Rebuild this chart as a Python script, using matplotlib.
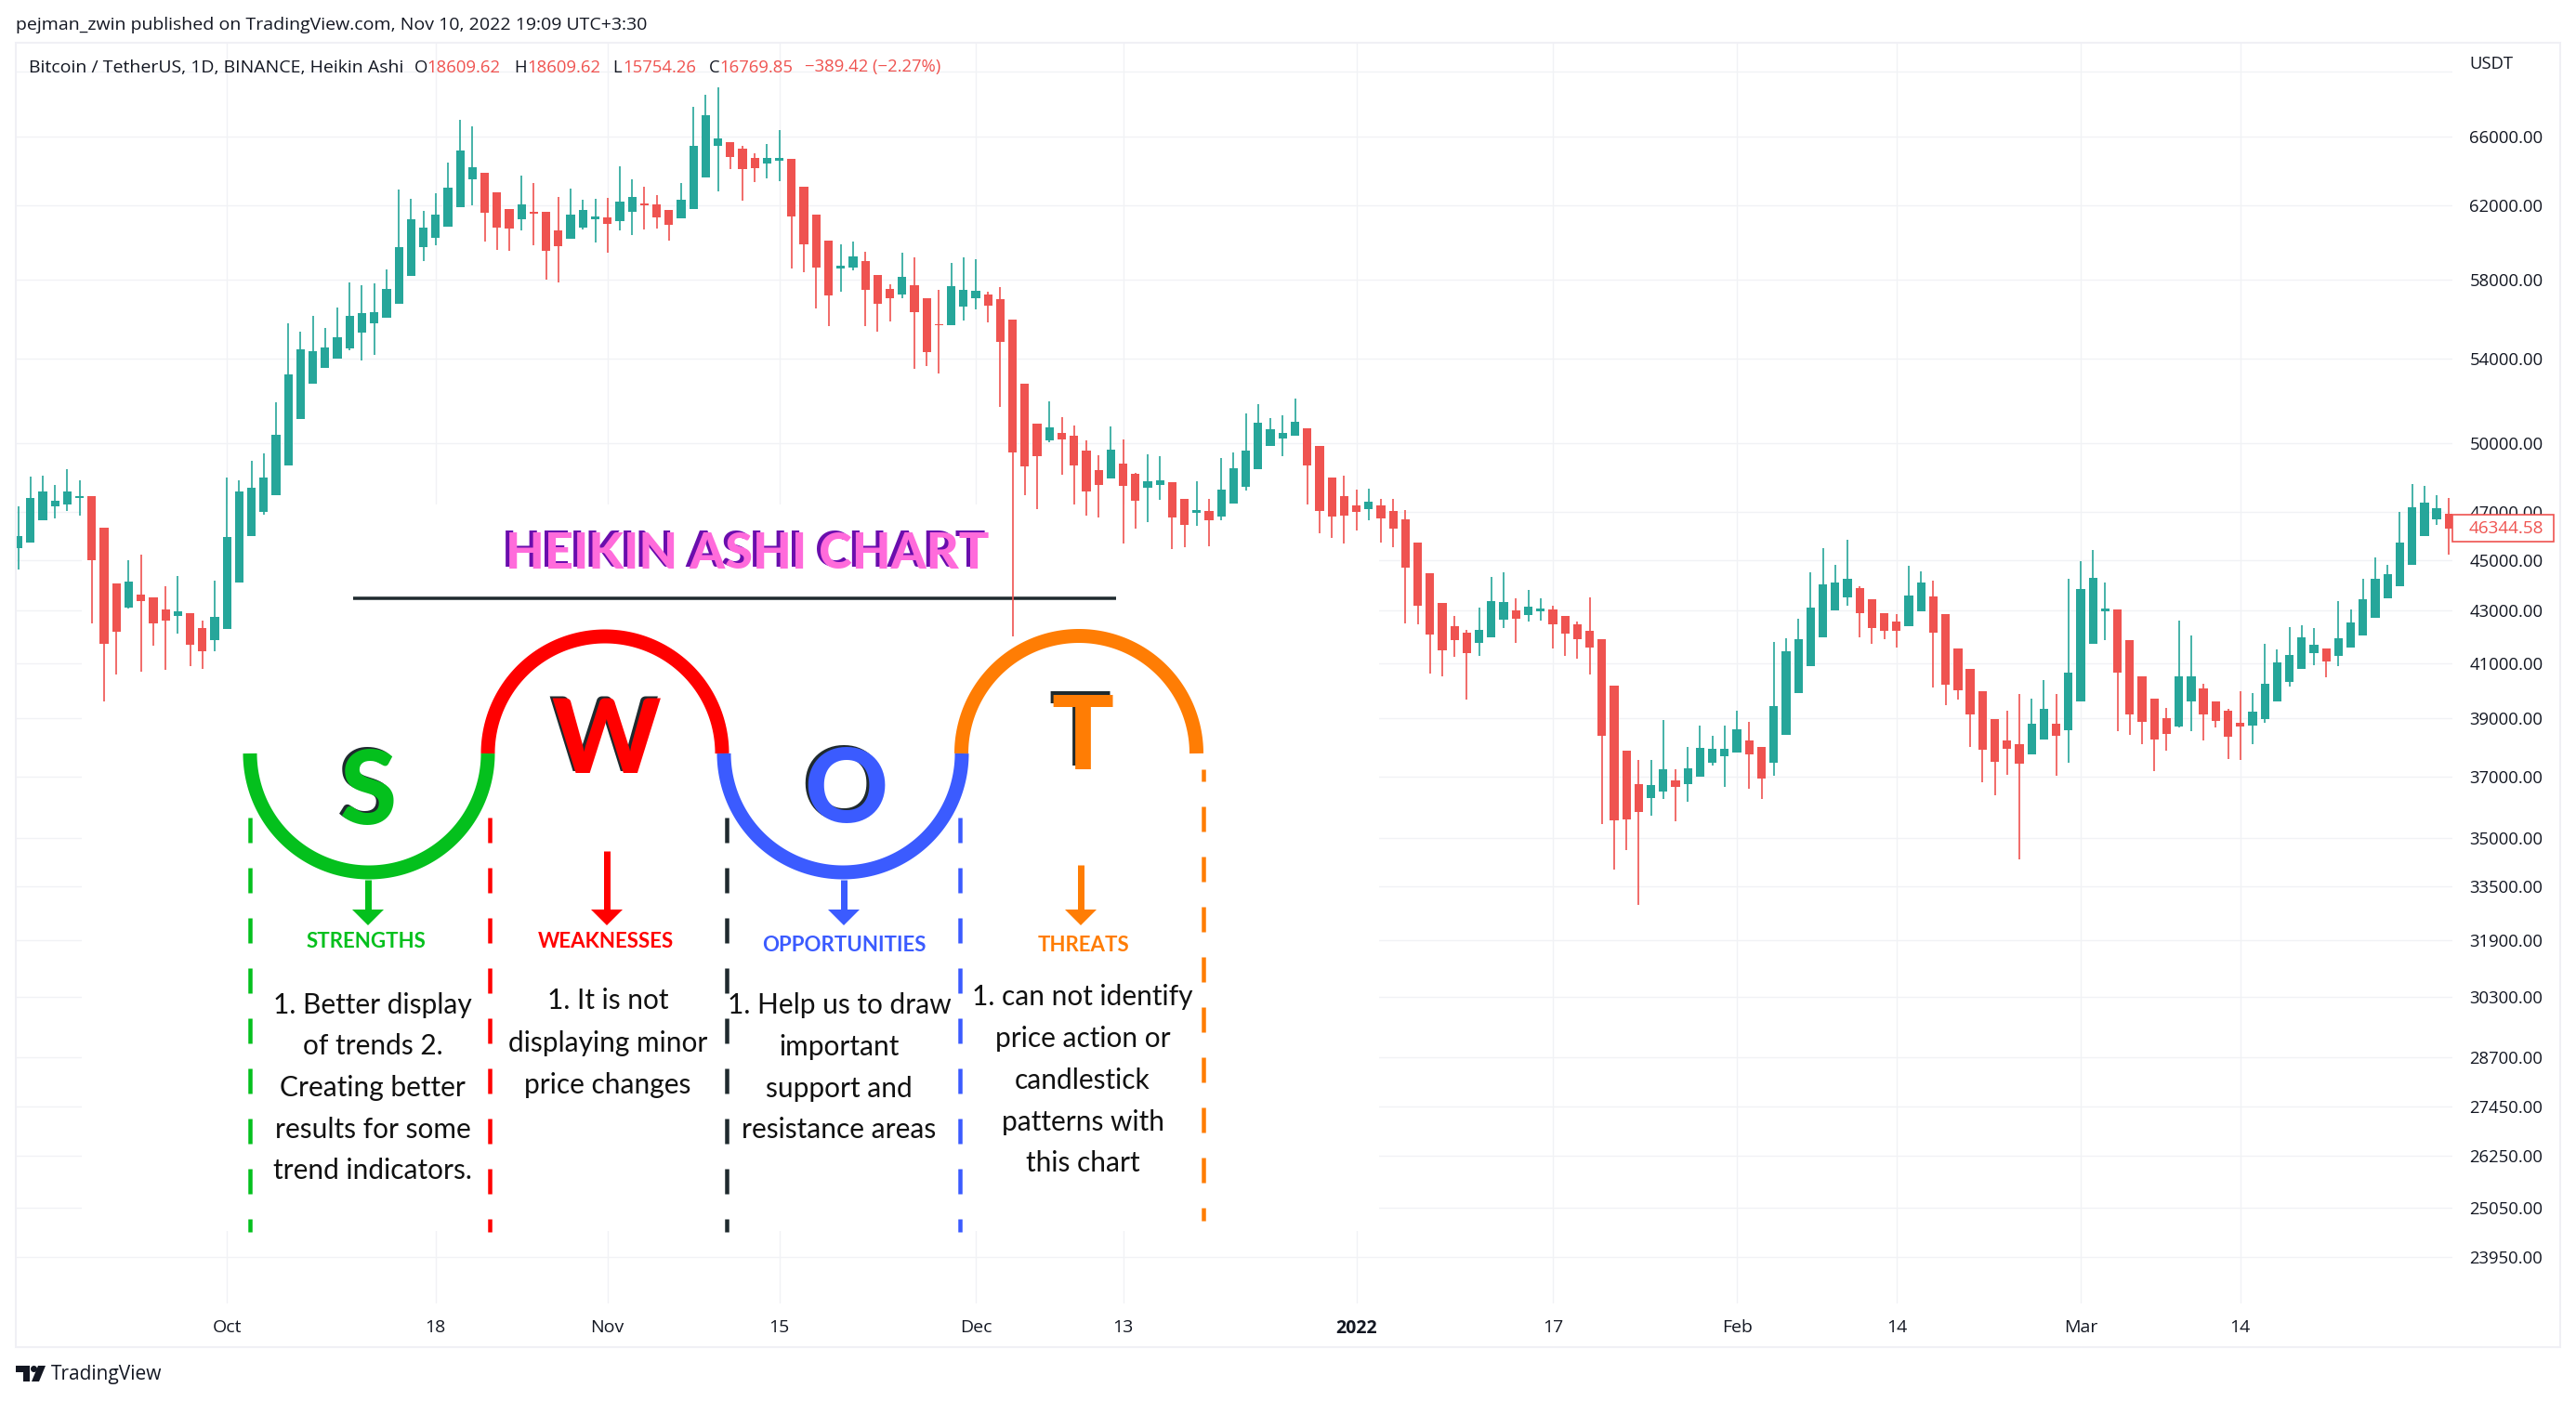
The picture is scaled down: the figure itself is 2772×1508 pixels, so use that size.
import numpy as np
import matplotlib
matplotlib.use('Agg')
import matplotlib.pyplot as plt
from matplotlib.lines import Line2D
from matplotlib.patches import Rectangle, Polygon, Circle
from matplotlib.transforms import Affine2D
from matplotlib.ticker import NullLocator

# ---- data: BTC/USDT daily Heikin Ashi candles, prices in tens of USDT ----
high_tens = [
4725,4852,4858,4816,4885,4836,4767,4633,4406,4500,4522,4350,4395,4436,4289,4260,4416,4848,4836,4922,
4955,5189,5575,5533,5612,5552,5655,5783,5770,5779,5853,6290,6239,6171,6269,6446,6700,6662,6388,6276,
6180,6371,6328,6167,6250,6297,6234,6239,6243,6424,6350,6307,6260,6176,6328,6780,6855,6901,6568,6546,
6502,6555,6640,6467,6307,6150,6007,5986,6002,5946,5823,5775,5942,5917,5702,5747,5886,5917,5906,5736,
5760,5593,5277,5091,5195,5121,5081,5015,4948,5077,5019,4869,4951,4944,4829,4757,4832,4757,4935,4961,
5139,5181,5116,5129,5207,5070,4988,4849,4856,4795,4799,4756,4756,4708,4572,4447,4329,4278,4224,4310,
4431,4451,4347,4380,4347,4318,4278,4257,4351,4188,4017,3787,3756,3756,3893,3724,3800,3874,3838,3874,
3927,3887,3800,4179,4192,4267,4451,4549,4481,4584,4395,4343,4288,4285,4477,4455,4417,4285,4154,4078,
3997,3897,3927,3986,3970,4037,3986,4424,4495,4541,4409,4304,4186,4050,3970,3937,4261,4203,4024,3959,
3934,3997,3990,4171,4150,4236,4242,4232,4154,4335,4304,4424,4510,4481,4700,4821,4812,4771,4760]
body_top_tens = [
4599,4760,4787,4748,4787,4767,4767,4633,4406,4413,4362,4350,4303,4295,4289,4231,4274,4595,4787,4803,
4848,5040,5323,5444,5436,5455,5504,5612,5627,5631,5751,5973,6125,6079,6150,6302,6519,6419,6388,6276,
6180,6208,6167,6167,6063,6150,6176,6139,6134,6222,6250,6213,6208,6176,6234,6546,6730,6590,6568,6528,
6475,6475,6475,6467,6307,6150,6007,5873,5922,5897,5823,5751,5814,5770,5702,5570,5764,5747,5740,5721,
5697,5593,5277,5091,5074,5049,5036,4968,4881,4972,4911,4865,4832,4836,4829,4757,4709,4703,4796,4889,
4968,5095,5066,5049,5098,5070,4988,4849,4768,4728,4743,4728,4704,4668,4572,4447,4329,4238,4213,4224,
4335,4333,4300,4314,4307,4304,4278,4246,4221,4188,4017,3787,3675,3671,3724,3687,3727,3797,3794,3794,
3861,3823,3800,3943,4143,4188,4310,4402,4409,4424,4387,4343,4288,4257,4357,4409,4355,4285,4154,4078,
3997,3897,3823,3809,3881,3934,3881,4064,4383,4428,4307,4304,4186,4050,3970,3900,4050,4050,4006,3959,
3927,3884,3923,4024,4102,4130,4196,4167,4154,4192,4253,4343,4424,4443,4572,4719,4740,4715,4692]
body_bot_tens = [
4549,4571,4665,4725,4732,4760,4500,4171,4217,4310,4336,4249,4260,4277,4168,4143,4185,4228,4409,4599,
4700,4771,4902,5112,5277,5353,5400,5448,5527,5575,5602,5674,5818,5973,6023,6084,6192,6350,6160,6079,
6072,6125,6155,5953,5977,6018,6079,6125,6100,6114,6167,6201,6134,6093,6130,6180,6362,6546,6480,6409,
6414,6441,6458,6139,5986,5862,5717,5858,5862,5747,5674,5702,5721,5631,5430,5564,5564,5659,5702,5663,
5481,4961,4898,4944,5013,5019,4902,4787,4816,4845,4812,4748,4803,4816,4677,4646,4696,4665,4680,4735,
4809,4885,4989,5023,5036,4902,4704,4681,4685,4700,4713,4672,4630,4469,4318,4207,4147,4186,4137,4175,
4196,4263,4267,4282,4296,4246,4211,4188,4158,3838,3556,3558,3583,3628,3650,3665,3675,3700,3746,3768,
3781,3775,3693,3746,3842,3990,4088,4196,4300,4351,4288,4232,4221,4221,4238,4296,4213,4020,4000,3914,
3790,3749,3794,3742,3775,3826,3838,3858,3959,4171,4296,4064,3914,3887,3826,3845,3870,3959,3914,3891,
3835,3870,3874,3897,3959,4030,4078,4137,4105,4126,4158,4203,4271,4347,4395,4481,4599,4668,4630]
low_tens = [
4463,4571,4665,4672,4703,4684,4249,3959,4057,4306,4068,4165,4074,4211,4088,4078,4143,4228,4409,4599,
4688,4771,4902,5112,5277,5353,5400,5440,5390,5418,5602,5674,5818,5897,5982,6084,6192,6201,6002,5957,
5953,6063,5982,5799,5783,6018,6068,5998,5942,6063,6038,6068,6072,6007,6130,6180,6362,6281,6409,6229,
6333,6354,6340,5858,5838,5650,5560,5736,5849,5560,5533,5583,5702,5349,5363,5327,5564,5589,5644,5579,
5168,4200,4771,4712,5006,4861,4732,4684,4677,4845,4568,4630,4658,4751,4546,4552,4642,4556,4665,4735,
4792,4885,4989,4944,5036,4732,4610,4591,4568,4622,4664,4572,4553,4249,4246,4061,4050,4122,3966,4126,
4196,4232,4175,4257,4261,4154,4126,4116,4057,3544,3401,3461,3294,3571,3625,3553,3617,3700,3737,3665,
3781,3658,3625,3702,3842,3990,4088,4196,4300,4318,4196,4171,4188,4158,4238,4296,4010,3946,3966,3800,
3680,3638,3705,3433,3775,3826,3702,3746,3959,4171,4186,3854,3842,3809,3718,3787,3868,3854,3823,3868,
3759,3756,3809,3884,3959,4013,4078,4092,4048,4088,4158,4203,4271,4347,4395,4481,4599,4645,4522]
directions = ("UUUUUUDDDU" "DDDUDDUUUU" "UUUUUUUUUU" "UUUUUUUUDD" "DUDDDUUUDU"
              "UDDDUUUUDD" "DUUDDDDUUD" "DDUDDDUUUD" "DDDDUDDDDU" "DDUUDDUDUU"
              "UUUUUDDDDD" "UDDDDDDDDU" "UUDUUDDDDD" "DDDUUDUUUU" "UDDUUUUUUU"
              "DDDDUUDDDD" "DDDDUUDUUU" "UDDDDDUUDD" "DDUUUUUUDU" "UUUUUUUUD")
price_ticks = [70000, 66000, 62000, 58000, 54000, 50000, 47000, 45000, 43000, 41000, 39000,
               37000, 35000, 33500, 31900, 30300, 28700, 27450, 26250, 25050, 23950]
date_tick_index = [18, 35, 49, 63, 79, 91, 110, 126, 141, 154, 169, 182]
date_tick_labels = ['Oct', '18', 'Nov', '15', 'Dec', '13', '2022', '17', 'Feb', '14', 'Mar', '14']
last_price = 46344.58

W, H = 2772, 1508
plt.rcParams['lines.scale_dashes'] = False
plt.rcParams['font.family'] = 'Open Sans'
fig = plt.figure(figsize=(W/100, H/100), dpi=100, facecolor='white')
px = Affine2D().scale(1, -1).translate(0, H)   # top-left pixel coordinates for annotation layer

L, R, T, B = 17, 2639, 46, 1403
ax = fig.add_axes([L/W, 1-B/H, (R-L)/W, (B-T)/H])
for s in ax.spines.values():
    s.set_visible(False)
ax.set_yscale('log')
ax.set_xlim(0.803, 199.28)
ax.set_ylim(22970, 71850)
ax.set_axisbelow(True)
ax.grid(True, color='#F1F2F5', lw=1.0)
ax.set_yticks(price_ticks)
ax.set_yticklabels(['' if p == 70000 else f'{p:.2f}' for p in price_ticks])
ax.yaxis.set_minor_locator(NullLocator())
ax.yaxis.tick_right()
ax.set_xticks(date_tick_index)
ax.set_xticklabels(date_tick_labels)
ax.tick_params(axis='y', length=0, labelcolor='#131722', labelsize=13.3, pad=13.2)
ax.tick_params(axis='x', length=0, labelcolor='#131722', labelsize=14, pad=12)
ax.get_xticklabels()[date_tick_labels.index('2022')].set_fontweight('bold')

# candles
idx = np.arange(1, len(directions)+1)
high, top, bot, low = [np.array(a)*10.0 for a in (high_tens, body_top_tens, body_bot_tens, low_tens)]
UP, DOWN = '#26A69A', '#EF5350'
colors = [UP if d == 'U' else DOWN for d in directions]
ax.vlines(idx, low, high, colors=colors, lw=1.2, zorder=3)
ax.bar(idx, top-bot, bottom=bot, width=0.7, color=colors, lw=0, zorder=3.1)

# ---- pasted SWOT drawing ----
def line(xs, ys, color, lw, z=2.2, **kw):
    ax.add_line(Line2D(xs, ys, color=color, lw=lw*0.72, transform=px, zorder=z,
                       clip_on=False, solid_capstyle='butt', **kw))

def txt(x, y, s, color='#000000', size=13, ha='center', va='center', z=2.5, target=None, **kw):
    (target or ax).text(x, y, s, color=color, fontsize=size, ha=ha, va=va, zorder=z,
                        transform=px, clip_on=False, **kw)

ax.add_patch(Rectangle((88, 543), 1396, 782, transform=px, fc='white', ec='none', zorder=2))

GREEN, RED, BLUE, ORANGE, DARK = '#04C01D', '#FF0000', '#3B5BFF', '#FF7D04', '#1F2A2E'
# title
TITLE = 'HEIKIN ASHI CHART'
txt(800, 595, TITLE, '#6A0DAD', 39, family='Lato', fontweight='black', z=2.4)
txt(804, 596, TITLE, '#FF6BDB', 39, family='Lato', fontweight='black', z=2.5)
line([380, 1201], [644, 644], DARK, 3.5)

# arcs
t = np.linspace(0, np.pi, 120)
for cx, r, sign, col in [(397, 128, 1, GREEN), (651, 126, -1, RED),
                         (907, 128, 1, BLUE), (1161, 126.5, -1, ORANGE)]:
    line(cx + r*np.cos(t), 811 + sign*r*np.sin(t), col, 15)

# dashed separators
for x, y0, y1, col, off in [(269, 880, 1326, GREEN, 0), (527, 880, 1326, RED, 0),
                            (782, 880, 1326, DARK, 0), (1033, 880, 1326, BLUE, 0),
                            (1295, 828, 1314, ORANGE, 14)]:
    line([x, x], [y0, y1], col, 4.5, linestyle=(off*0.72, (27*0.72, 27*0.72)))

# arrows
for x, y0, col in [(396, 947, GREEN), (653, 916, RED), (908, 947, BLUE), (1163, 931, ORANGE)]:
    line([x, x], [y0, 982], col, 7)
    ax.add_patch(Polygon([(x-17, 979), (x+17, 979), (x, 996)], closed=True, fc=col, ec='none',
                         transform=px, zorder=2.2))

# big letters
for x, y, ch, col in [(397, 855, 'S', GREEN), (652, 800, 'W', RED),
                      (910, 853, 'O', BLUE), (1165, 795, 'T', ORANGE)]:
    txt(x-3, y-3, ch, DARK, 80, family='Lato', fontweight='black', z=2.4)
    txt(x, y, ch, col, 80, family='Lato', fontweight='black', z=2.5)

# headings
for x, y, s, col in [(394, 1013, 'STRENGTHS', GREEN), (652, 1013, 'WEAKNESSES', RED),
                     (908, 1017, 'OPPORTUNITIES', BLUE), (1166, 1017, 'THREATS', ORANGE)]:
    txt(x, y, s, col, 16, family='Lato', fontweight='bold')

# body text
columns = [
    (401, [1082, 1126, 1171, 1216, 1260], ['1. Better display', 'of trends 2.', 'Creating better',
                                           'results for some', 'trend indicators.']),
    (654, [1077, 1123, 1168], ['1. It is not', 'displaying minor', 'price changes']),
    (903, [1082, 1127, 1172, 1216], ['1. Help us to draw', 'important', 'support and', 'resistance areas']),
    (1165, [1073, 1118, 1163, 1208, 1252], ['1. can not identify', 'price action or', 'candlestick',
                                            'patterns with', 'this chart']),
]
for x, ys, lines_ in columns:
    for y, s in zip(ys, lines_):
        txt(x, y, s, '#111111', 21.5, family='Lato')

# ---- page furniture ----
fig.add_artist(Rectangle((L, T), 2755-L, 1450-T, transform=px, fill=False, ec='#F0F0F5', lw=1.5))
DK, RD = '#131722', '#EF5350'
txt(17, 27, 'pejman_zwin published on TradingView.com, Nov 10, 2022 19:09 UTC+3:30', DK, 14, ha='left', target=fig)
txt(31, 72.5, 'Bitcoin / TetherUS, 1D, BINANCE, Heikin Ashi', DK, 14, ha='left', target=fig)
for x, s, c in [(446, 'O', DK), (459.5, '18609.62', RD), (553, 'H', DK), (567, '18609.62', RD),
                (659, 'L', DK), (670, '15754.26', RD), (762.5, 'C', DK), (774, '16769.85', RD),
                (866, '\u2212389.42 (\u22122.27%)', RD)]:
    txt(x, 72.5, s, c, 13.3, ha='left', target=fig)
txt(2657, 69, 'USDT', DK, 13.3, ha='left', target=fig)
fig.add_artist(Rectangle((2639, 554), 109, 28.5, transform=px, fc='white', ec=RD, lw=1.2))
txt(2657, 568.5, f'{last_price:.2f}', RD, 13.6, ha='left', target=fig)

# TradingView mark
LOGO = '#131722'
fig.add_artist(Polygon([(17, 1470), (32, 1470), (32, 1487), (25, 1487), (25, 1477), (17, 1477)],
                       closed=True, transform=px, fc=LOGO, ec='none'))
fig.add_artist(Circle((36.5, 1473.5), 3.5, transform=px, fc=LOGO, ec='none'))
fig.add_artist(Polygon([(41, 1470), (49, 1470), (42, 1487), (34, 1487)],
                       closed=True, transform=px, fc=LOGO, ec='none'))
txt(55, 1479, 'TradingView', DK, 15, ha='left', target=fig)

fig.savefig('out.png', dpi=100, facecolor='white')
